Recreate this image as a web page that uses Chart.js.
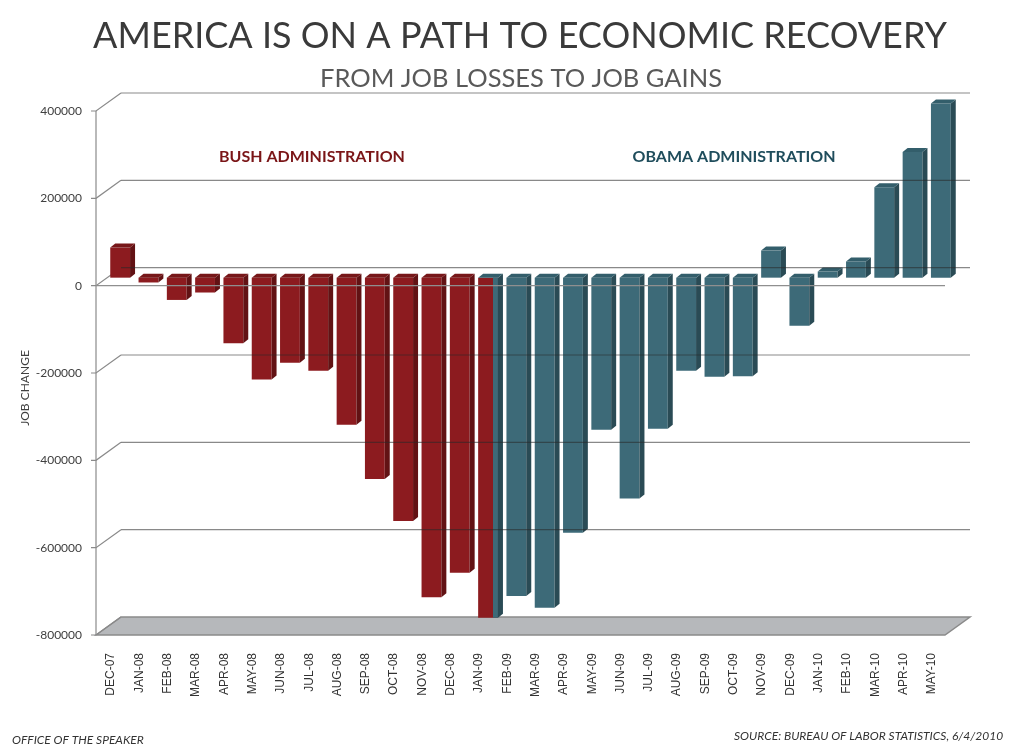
<!DOCTYPE html>
<html>
<head>
<meta charset="utf-8">
<title>America is on a path to economic recovery</title>
<script src="https://cdn.jsdelivr.net/npm/chart.js@4.4.0/dist/chart.umd.min.js"></script>
<style>
  html, body { margin: 0; padding: 0; background: #fff; }
  #wrap { width: 1023px; height: 756px; }
</style>
</head>
<body>
<div id="wrap"><canvas id="jobs" width="1023" height="756"></canvas></div>
<script>
// monthly change in payroll jobs
const months = ['DEC-07', 'JAN-08', 'FEB-08', 'MAR-08', 'APR-08', 'MAY-08', 'JUN-08', 'JUL-08',
  'AUG-08', 'SEP-08', 'OCT-08', 'NOV-08', 'DEC-08', 'JAN-09', 'FEB-09', 'MAR-09', 'APR-09',
  'MAY-09', 'JUN-09', 'JUL-09', 'AUG-09', 'SEP-09', 'OCT-09', 'NOV-09', 'DEC-09', 'JAN-10',
  'FEB-10', 'MAR-10', 'APR-10', 'MAY-10'];
const jobChange = [69000, -11000, -51000, -34000, -150000, -233000, -195000, -213000,
  -337000, -461000, -557000, -732000, -676000, -779000, -729000, -756000, -584000,
  -348000, -506000, -346000, -213000, -227000, -226000, 62000, -110000, 14000,
  37000, 207000, 288000, 399000];
const lastBushMonth = 'JAN-09';
const yTicks = [-800000, -600000, -400000, -200000, 0, 200000, 400000];

const RED = { front: '#8c1b1f', side: '#621214', top: '#771719' };
const TEAL = { front: '#3d6a78', side: '#2a4b55', top: '#335e6b' };

const lastBush = months.indexOf(lastBushMonth);
const isBush = months.map((m, i) => i <= lastBush);

// 3D look: bars sit between the front axis plane and the back wall
const DEPTH = { x: 5, y: 4 };
const FRONT = { x: -10, y: 8 };
const BACK = { x: 15, y: -10 };

const perspective = {
  id: 'perspective',
  beforeDatasetsDraw(chart) {
    const { ctx, chartArea: a, scales: { y } } = chart;
    const lo = y.getPixelForValue(yTicks[0]);
    ctx.save();
    // floor
    ctx.beginPath();
    ctx.moveTo(a.left + FRONT.x, lo + FRONT.y);
    ctx.lineTo(a.left + BACK.x, lo + BACK.y);
    ctx.lineTo(a.right + BACK.x, lo + BACK.y);
    ctx.lineTo(a.right + FRONT.x, lo + FRONT.y);
    ctx.closePath();
    ctx.fillStyle = '#b6b8bb';
    ctx.fill();
    ctx.strokeStyle = '#8a8a8a';
    ctx.lineWidth = 1.5;
    ctx.stroke();
    // diagonals, front axis line and ticks
    ctx.lineWidth = 1.2;
    yTicks.forEach(v => {
      const py = y.getPixelForValue(v);
      ctx.beginPath();
      ctx.moveTo(a.left + FRONT.x - 5, py + FRONT.y);
      ctx.lineTo(a.left + FRONT.x, py + FRONT.y);
      ctx.lineTo(a.left + BACK.x, py + BACK.y);
      ctx.stroke();
    });
    ctx.beginPath();
    ctx.moveTo(a.left + FRONT.x, y.getPixelForValue(yTicks[yTicks.length - 1]) + FRONT.y);
    ctx.lineTo(a.left + FRONT.x, lo + FRONT.y);
    ctx.stroke();
    ctx.restore();
  },
  afterDatasetsDraw(chart) {
    const { ctx, chartArea: a, scales: { y } } = chart;
    const meta = chart.getDatasetMeta(0);
    ctx.save();
    meta.data.forEach((bar, i) => {
      const { x, y: py, base, width } = bar.getProps(['x', 'y', 'base', 'width'], true);
      const top = Math.min(py, base), bottom = Math.max(py, base);
      const l = x - width / 2, r = x + width / 2;
      let pal = isBush[i] ? RED : TEAL;
      if (i === lastBush) {
        // the handover month is partly teal on its right edge
        ctx.fillStyle = TEAL.front;
        ctx.fillRect(l + width * 0.75, top, width * 0.25, bottom - top);
        pal = TEAL;
      }
      ctx.fillStyle = pal.side;
      ctx.beginPath();
      ctx.moveTo(r, top);
      ctx.lineTo(r + DEPTH.x, top - DEPTH.y);
      ctx.lineTo(r + DEPTH.x, bottom - DEPTH.y);
      ctx.lineTo(r, bottom);
      ctx.closePath();
      ctx.fill();
      ctx.fillStyle = pal.top;
      ctx.beginPath();
      ctx.moveTo(l, top);
      ctx.lineTo(l + DEPTH.x, top - DEPTH.y);
      ctx.lineTo(r + DEPTH.x, top - DEPTH.y);
      ctx.lineTo(r, top);
      ctx.closePath();
      ctx.fill();
    });
    // back wall gridlines (show through the bars)
    ctx.strokeStyle = 'rgba(40,40,40,0.55)';
    ctx.lineWidth = 1.2;
    yTicks.slice(1).forEach(v => {
      const py = y.getPixelForValue(v) + BACK.y;
      ctx.beginPath();
      ctx.moveTo(a.left + BACK.x, py);
      ctx.lineTo(a.right + BACK.x, py);
      ctx.stroke();
    });
    // front zero line
    const z = y.getPixelForValue(0) + FRONT.y;
    ctx.strokeStyle = '#8f8f8f';
    ctx.beginPath();
    ctx.moveTo(a.left + FRONT.x, z);
    ctx.lineTo(a.right + FRONT.x, z);
    ctx.stroke();
    ctx.restore();
  },
  afterDraw(chart) {
    const { ctx } = chart;
    ctx.save();
    ctx.textBaseline = 'alphabetic';
    ctx.textAlign = 'center';
    ctx.fillStyle = '#3a3a3a';
    ctx.font = '36px Lato';
    ctx.fillText('AMERICA IS ON A PATH TO ECONOMIC RECOVERY', 520, 48);
    ctx.fillStyle = '#595959';
    ctx.font = '25.5px Lato';
    ctx.fillText('FROM JOB LOSSES TO JOB GAINS', 521, 87);
    ctx.font = 'bold 16px Lato';
    ctx.fillStyle = '#7a1517';
    ctx.fillText('BUSH ADMINISTRATION', 312, 162);
    ctx.fillStyle = '#1f4d5c';
    ctx.fillText('OBAMA ADMINISTRATION', 734, 162);
    // y axis title
    ctx.save();
    ctx.translate(25, 388);
    ctx.rotate(-Math.PI / 2);
    ctx.textBaseline = 'middle';
    ctx.fillStyle = '#404040';
    ctx.font = '12px Lato';
    ctx.fillText('JOB CHANGE', 0, 0);
    ctx.restore();
    // footers
    ctx.textAlign = 'left';
    ctx.fillStyle = '#333';
    ctx.font = 'italic 12px Lato';
    ctx.fillText('OFFICE OF THE SPEAKER', 12, 744);
    ctx.fillText('SOURCE: BUREAU OF LABOR STATISTICS, 6/4/2010', 734, 740);
    ctx.restore();
  }
};

new Chart(document.getElementById('jobs'), {
  type: 'bar',
  data: {
    labels: months,
    datasets: [{
      data: jobChange,
      backgroundColor: isBush.map(b => b ? RED.front : TEAL.front),
      borderWidth: 0,
      barPercentage: 0.7,
      categoryPercentage: 1.0
    }]
  },
  options: {
    responsive: false,
    animation: false,
    layout: { padding: { top: 103, right: 68, left: 0, bottom: 0 } },
    plugins: { legend: { display: false }, tooltip: { enabled: false } },
    scales: {
      x: {
        grid: { display: false },
        border: { display: false },
        ticks: {
          autoSkip: false, minRotation: 90, maxRotation: 90,
          padding: 18, labelOffset: -9,
          color: '#333', font: { family: 'Liberation Sans', size: 12 }
        },
        afterFit(scale) { scale.height = 129; }
      },
      y: {
        min: -800000, max: 400000,
        grid: { display: false, drawTicks: false },
        border: { display: false },
        ticks: {
          stepSize: 200000, padding: 24, labelOffset: 8,
          color: '#404040', font: { family: 'Lato', size: 12 },
          callback: v => String(v)
        },
        afterFit(scale) { scale.width = 106; }
      }
    }
  },
  plugins: [perspective]
});
</script>
</body>
</html>
